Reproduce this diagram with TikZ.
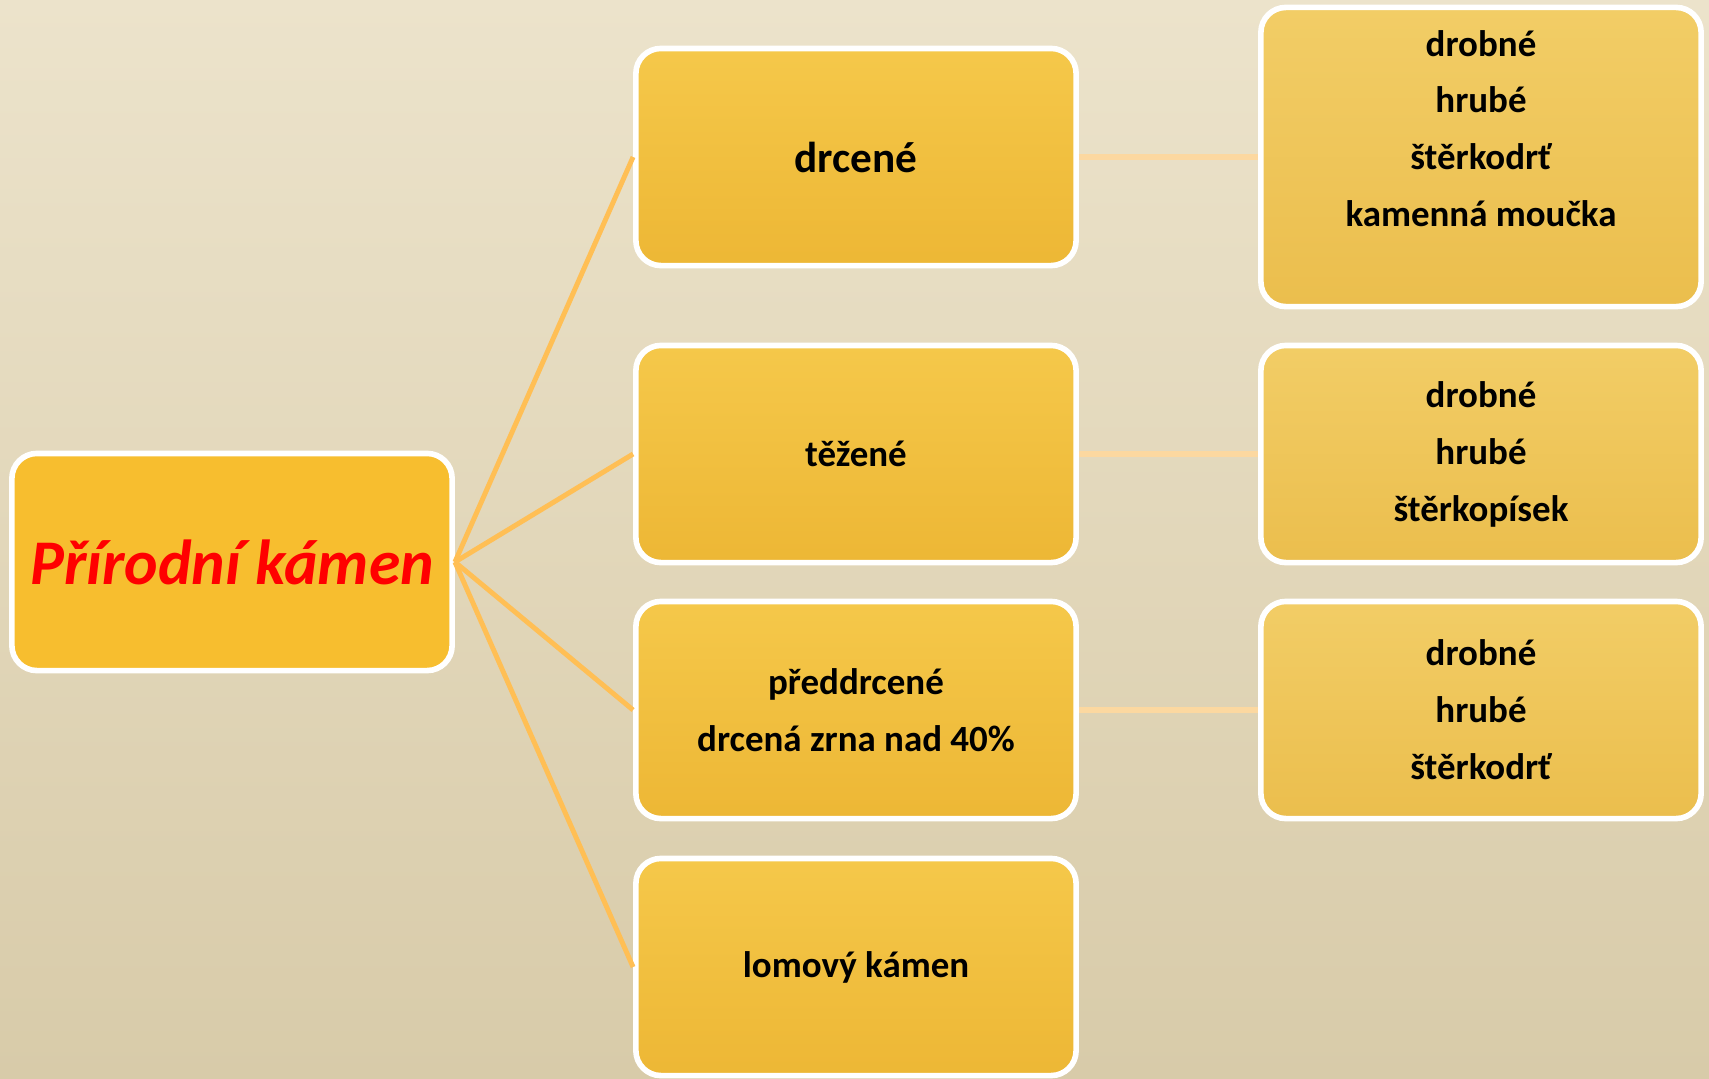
\documentclass[tikz,border=0pt]{standalone}
\usepackage{fontspec}
\setmainfont{Carlito}
\usepackage{tikz}
\usetikzlibrary{calc}
\definecolor{bgtop}{HTML}{ECE3CB}
\definecolor{bgbot}{HTML}{D8CBA9}
\definecolor{rootfill}{HTML}{F7BE2F}
\definecolor{midtop}{HTML}{F5C84A}
\definecolor{midbot}{HTML}{EDB735}
\definecolor{leaftop}{HTML}{F2CD66}
\definecolor{leafbot}{HTML}{EBBE4D}
\definecolor{spokecol}{HTML}{FFBF55}
\definecolor{linkcol}{HTML}{FCD8A0}
\tikzset{
  box/.style={draw=white, line width=1.6pt, rounded corners=0.25cm,
    minimum width=4.4cm, minimum height=2.17cm, inner sep=0pt,
    align=center, font=\fontsize{10.5}{16.2}\selectfont\bfseries},
  rootbox/.style={box, fill=rootfill, text=red,
    font=\fontsize{18.1}{22}\selectfont\bfseries\itshape},
  midbox/.style={box, top color=midtop, bottom color=midbot},
  leafbox/.style={box, top color=leaftop, bottom color=leafbot},
  spoke/.style={draw=spokecol, line width=1.4pt},
  leaflink/.style={draw=linkcol, line width=1.6pt}
}

\begin{document}
\begin{tikzpicture}[x=0.01cm, y=-0.01cm] % pixel grid, y grows down
  % background
  \shade[top color=bgtop, bottom color=bgbot] (0,0) rectangle (1709,1078);
  \useasboundingbox (0,0) rectangle (1709,1078);

  \node[rootbox] (root) at (232,562) {Přírodní kámen};

  \node[midbox, font=\fontsize{12.3}{15}\selectfont\bfseries] (drc) at (856,157) {drcené};
  \node[midbox] (tez) at (856,454) {těžené};
  \node[midbox] (pred) at (856,710) {předdrcené\\drcená zrna nad 40\%};
  \node[midbox] (lom) at (856,967) {lomový kámen};

  \node[leafbox, minimum height=2.99cm] (drcA) at (1481,157)
       {drobné\\hrubé\\štěrkodrť\\kamenná moučka\\\mbox{}};
  \node[leafbox] (tezA) at (1481,454) {drobné\\hrubé\\štěrkopísek};
  \node[leafbox] (predA) at (1481,710) {drobné\\hrubé\\štěrkodrť};

  % spokes from the root
  \draw[spoke] (root.east) -- (drc.west);
  \draw[spoke] (root.east) -- (tez.west);
  \draw[spoke] (root.east) -- (pred.west);
  \draw[spoke] (root.east) -- (lom.west);
  % links to the sub-lists
  \draw[leaflink] (drc.east) -- (drcA.west);
  \draw[leaflink] (tez.east) -- (tezA.west);
  \draw[leaflink] (pred.east) -- (predA.west);
\end{tikzpicture}
\end{document}
